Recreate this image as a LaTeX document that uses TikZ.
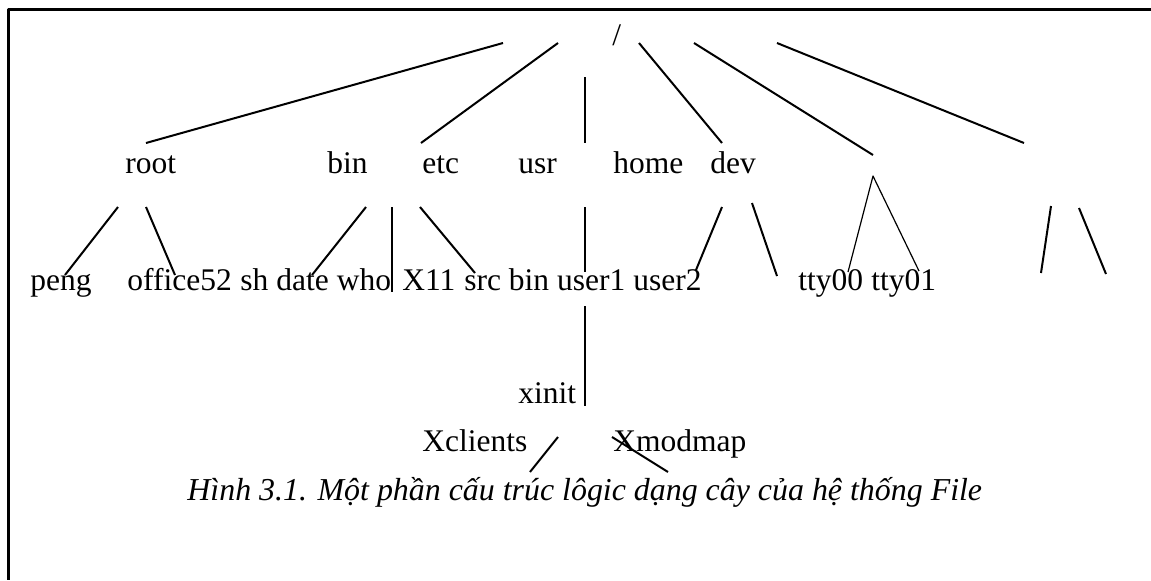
\documentclass[tikz,border=0pt]{standalone}
\usepackage{fontspec}
\setmainfont{Liberation Serif}
\begin{document}
\begin{tikzpicture}[x=0.5pt,y=-0.5pt,line join=round,
	chu/.style={anchor=base west,inner sep=0pt,font=\fontsize{15.75}{18}\selectfont},
	net/.style={line width=1pt},
	netmanh/.style={line width=1.5pt}]
	\useasboundingbox (0,0) rectangle (1151,580);
	%==Khung
	\draw[netmanh] (1151,9)coordinate(K1)--(8,9)coordinate(K0)--(8,580)coordinate(K2);
	%==Tên các thư mục và file
	\node[chu] (goc) at (612,45.5) {/};
	\foreach \ten/\tx/\x/\y in {root/root/125/173,bin/bin/327/173,etc/etc/422/173,usr/usr/518/173,home/home/613/173,dev/dev/710/173,
		peng/peng/30/290,office/office52/127/290,sh/sh/240/290,date/date/276/290,who/who/336.5/290,
		X/X11/402/290,src/src/464/290,binu/bin/508.5/290,userA/user1/556.7/290,userB/user2/633/290,
		ttyA/tty00/798/290,ttyB/tty01/871/290,
		xinit/xinit/518/403,Xclients/Xclients/422/451,Xmodmap/Xmodmap/613/451}
	\node[chu] (\ten) at (\x,\y) {\tx};
	\node[chu,font=\fontsize{15.95}{18}\selectfont\itshape] (hinh) at (187,500) {Hình 3.1. Một phần cấu trúc lôgic dạng cây của hệ thống File};
	%==Các nét nối
	\draw[net] (146,143)coordinate(a1)--(503,43)coordinate(a2);
	\draw[net] (558,43)coordinate(b1)--(421,143)coordinate(b2);
	\draw[net] (585,77)coordinate(c1)--(585,143)coordinate(c2);
	\draw[net] (639,43)coordinate(d1)--(722,143)coordinate(d2);
	\draw[net] (694,43)coordinate(e1)--(873,155)coordinate(e2);
	\draw[net] (777,43)coordinate(f1)--(1024,143)coordinate(f2);
	\draw[net] (118,207)coordinate(g1)--(65,275)coordinate(g2);
	\draw[net] (146,207)coordinate(h1)--(175,275)coordinate(h2);
	\draw[net] (366,207)coordinate(i1)--(312,275)coordinate(i2);
	\draw[net] (392,207)coordinate(j1)--(392,292)coordinate(j2);
	\draw[net] (420,207)coordinate(k1)--(475,273)coordinate(k2);
	\draw[net] (585,207)coordinate(l1)--(585,272)coordinate(l2);
	\draw[net] (722,207)coordinate(m1)--(696,270)coordinate(m2);
	\draw[net] (752,203)coordinate(n1)--(777,276)coordinate(n2);
	\draw[line width=0.6pt] (848,272)coordinate(o1)--(873,176)coordinate(o0)--(919,271)coordinate(o2);
	\draw[net] (1051,206)coordinate(p1)--(1041,273)coordinate(p2);
	\draw[net] (1079,208)coordinate(q1)--(1106,274)coordinate(q2);
	\draw[net] (585,306)coordinate(r1)--(585,406)coordinate(r2);
	\draw[net] (558,437)coordinate(s1)--(530,472)coordinate(s2);
	\draw[net] (612,437)coordinate(t1)--(668,472)coordinate(t2);
\end{tikzpicture}
\end{document}
